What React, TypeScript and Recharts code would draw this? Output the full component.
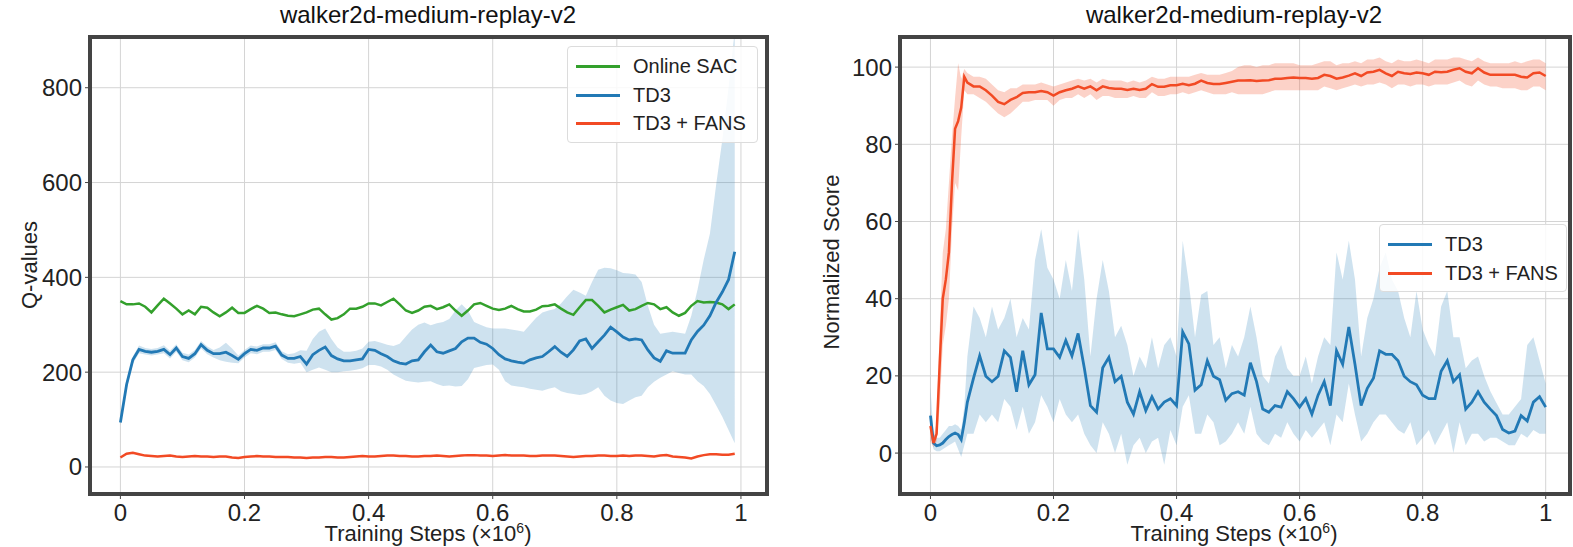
import React from 'react'
import { ComposedChart, Line, Area, XAxis, YAxis, CartesianGrid, ReferenceArea } from 'recharts'

// ---------- left panel: Q-values ----------
const qSteps = [
  0, 0.01, 0.02, 0.03, 0.04, 0.05, 0.06, 0.07, 0.08, 0.09,
  0.1, 0.11, 0.12, 0.13, 0.14, 0.15, 0.16, 0.17, 0.18, 0.19,
  0.2, 0.21, 0.22, 0.23, 0.24, 0.25, 0.26, 0.27, 0.28, 0.29,
  0.3, 0.31, 0.32, 0.33, 0.34, 0.35, 0.36, 0.37, 0.38, 0.39,
  0.4, 0.41, 0.42, 0.43, 0.44, 0.45, 0.46, 0.47, 0.48, 0.49,
  0.5, 0.51, 0.52, 0.53, 0.54, 0.55, 0.56, 0.57, 0.58, 0.59,
  0.6, 0.61, 0.62, 0.63, 0.64, 0.65, 0.66, 0.67, 0.68, 0.69,
  0.7, 0.71, 0.72, 0.73, 0.74, 0.75, 0.76, 0.77, 0.78, 0.79,
  0.8, 0.81, 0.82, 0.83, 0.84, 0.85, 0.86, 0.87, 0.88, 0.89,
  0.9, 0.91, 0.92, 0.93, 0.94, 0.95, 0.96, 0.97, 0.98, 0.99,
]

const sacQ = [
  350, 343, 343, 345, 338, 326, 341, 355, 345, 334,
  322, 330, 322, 338, 336, 326, 318, 326, 336, 325,
  325, 333, 340, 334, 325, 326, 322, 319, 318, 322,
  326, 332, 334, 322, 311, 314, 322, 334, 334, 338,
  345, 345, 341, 348, 355, 343, 330, 325, 330, 338,
  340, 333, 337, 343, 330, 319, 330, 343, 346, 340,
  334, 331, 334, 340, 333, 328, 328, 332, 339, 340,
  343, 334, 326, 321, 337, 352, 352, 340, 326, 332,
  337, 342, 330, 333, 340, 346, 343, 333, 337, 326,
  319, 325, 340, 350, 347, 348, 347, 343, 333, 343,
]

const td3Q = [
  94, 174, 226, 248, 244, 242, 244, 248, 237, 251,
  233, 229, 239, 258, 246, 239, 239, 242, 235, 227,
  239, 248, 246, 251, 251, 255, 236, 229, 229, 233,
  217, 237, 246, 253, 235, 228, 224, 224, 226, 228,
  248, 246, 239, 233, 224, 219, 217, 224, 226, 243,
  257, 243, 240, 245, 250, 264, 272, 272, 263, 259,
  250, 237, 228, 224, 221, 219, 226, 230, 233, 243,
  254, 242, 233, 247, 266, 270, 250, 264, 278, 295,
  285, 274, 268, 270, 268, 247, 230, 223, 245, 240,
  240, 240, 268, 286, 299, 319, 347, 369, 395, 454,
]

const td3QLo = [
  88, 165, 218, 240, 237, 235, 237, 240, 229, 243,
  225, 221, 231, 250, 238, 231, 225, 222, 220, 219,
  231, 240, 238, 243, 243, 247, 228, 220, 218, 220,
  200, 205, 210, 205, 200, 200, 202, 203, 205, 208,
  215, 215, 212, 205, 195, 188, 182, 180, 178, 180,
  181, 175, 171, 172, 170, 171, 185, 209, 212, 215,
  216, 205, 181, 172, 170, 168, 165, 163, 161, 165,
  168, 160, 156, 154, 152, 154, 160, 168, 150, 140,
  135, 133, 140, 147, 150, 168, 180, 188, 195, 202,
  198, 195, 195, 181, 171, 154, 130, 106, 78, 50,
]

const td3QHi = [
  100, 182, 233, 256, 251, 249, 251, 257, 245, 259,
  241, 237, 247, 266, 254, 247, 252, 262, 250, 235,
  247, 256, 254, 259, 259, 263, 244, 238, 240, 246,
  245, 270, 285, 292, 270, 252, 243, 243, 245, 250,
  264, 266, 262, 258, 255, 260, 275, 290, 300, 305,
  299, 303, 306, 312, 330, 343, 330, 306, 300, 295,
  292, 292, 292, 290, 288, 285, 300, 315, 326, 330,
  333, 345, 360, 374, 368, 361, 390, 416, 420, 419,
  415, 409, 408, 406, 390, 340, 300, 281, 283, 285,
  283, 281, 319, 374, 437, 492, 595, 690, 800, 920,
]

const fansQ = [
  20, 28, 30, 27, 24, 23, 22, 23, 24, 22,
  21, 22, 23, 22, 22, 21, 22, 22, 20, 19,
  21, 22, 23, 22, 22, 21, 21, 21, 20, 20,
  19, 20, 20, 21, 21, 20, 20, 21, 22, 23,
  22, 22, 23, 24, 24, 23, 23, 22, 22, 23,
  23, 24, 23, 22, 23, 24, 25, 25, 24, 24,
  23, 24, 25, 24, 24, 24, 23, 23, 24, 24,
  24, 23, 22, 21, 22, 23, 23, 24, 24, 23,
  23, 24, 23, 24, 24, 23, 22, 24, 25, 22,
  21, 20, 18, 22, 25, 27, 27, 26, 26, 28,
]

const qTicksX = [0, 0.2, 0.4, 0.6, 0.8, 1]
const qTicksY = [0, 200, 400, 600, 800]

// ---------- right panel: normalized score ----------
const scoreSteps = [
  0, 0.005, 0.01, 0.015, 0.02, 0.025, 0.03, 0.035, 0.04, 0.045, 0.05, 0.055, 0.06,
  0.07, 0.08, 0.09, 0.1, 0.11, 0.12, 0.13, 0.14, 0.15, 0.16, 0.17, 0.18, 0.19,
  0.2, 0.21, 0.22, 0.23, 0.24, 0.25, 0.26, 0.27, 0.28, 0.29,
  0.3, 0.31, 0.32, 0.33, 0.34, 0.35, 0.36, 0.37, 0.38, 0.39,
  0.4, 0.41, 0.42, 0.43, 0.44, 0.45, 0.46, 0.47, 0.48, 0.49,
  0.5, 0.51, 0.52, 0.53, 0.54, 0.55, 0.56, 0.57, 0.58, 0.59,
  0.6, 0.61, 0.62, 0.63, 0.64, 0.65, 0.66, 0.67, 0.68, 0.69,
  0.7, 0.71, 0.72, 0.73, 0.74, 0.75, 0.76, 0.77, 0.78, 0.79,
  0.8, 0.81, 0.82, 0.83, 0.84, 0.85, 0.86, 0.87, 0.88, 0.89,
  0.9, 0.91, 0.92, 0.93, 0.94, 0.95, 0.96, 0.97, 0.98, 0.99, 1.0,
]

const td3Score = [
  9.7, 2.6, 1.9, 2.1, 2.6, 3.5, 4.3, 4.8, 5.2, 4.8, 3.5, 7.9, 13.2,
  19.4, 25.2, 19.9, 18.5, 19.9, 26.5, 24.8, 15.9, 26.5, 17.7, 20.3, 36.3, 27,
  27, 24.8, 29.2, 25.2, 31, 22.1, 12.3, 10.6, 22.1, 24.8,
  18.5, 19.9, 13.2, 10.1, 15.9, 11, 14.6, 11.4, 13.2, 14.1,
  12.3, 31.4, 28.3, 16.3, 17.7, 23.9, 19.9, 19, 13.7, 15.4,
  15.9, 15, 23.4, 18.5, 11.4, 10.6, 12.3, 11.9, 15.9, 14.1,
  11.9, 14.1, 10.1, 15, 18.5, 12.3, 26.5, 23, 32.7, 23,
  12.3, 16.8, 19.4, 26.5, 25.6, 25.6, 23.9, 19.9, 18.5, 17.7,
  15, 14.1, 14.1, 21.2, 23.9, 18.5, 20.3, 11.4, 13.2, 15.9,
  13.2, 11.4, 9.7, 6.1, 5.2, 5.7, 9.7, 8.3, 13.2, 14.6, 11.9,
]

const td3ScoreLo = [
  5, 1, 0.5, 0.5, 1, 1.5, 2, 2.5, 3, 1, -1, 2, 5,
  5, 10, 8, 10, 8, 14, 12, 6, 12, 5, 8, 15, 12,
  8, 14, 10, 8, 10, 5, 2, 0, 8, 5,
  0, 5, -3, 2, 4, 0, 3, 4, -3, 6,
  2, 12, 15, 5, 5, 10, 8, 2, 3, 5,
  8, 5, 12, 5, 3, 2, 5, 4, 8, 5,
  3, 6, 4, 6, 8, 2, 10, 8, 18, 10,
  3, 5, 8, 10, 10, 8, 6, 5, 8, 2,
  4, 6, 2, 5, 8, 0, 8, 2, 5, 5,
  3, 4, 4, 3, 2, 2, 5, 4, 6, 5, 5,
]

const td3ScoreHi = [
  17, 5, 4, 4, 5, 6, 7, 7, 7.5, 7, 6, 12, 25,
  38, 35, 30, 38, 32, 35, 40, 30, 35, 32, 50, 58, 48,
  45, 40, 50, 42, 58, 45, 25, 40, 50, 42,
  30, 33, 28, 20, 25, 22, 30, 22, 28, 30,
  25, 55, 44, 30, 41, 42, 28, 30, 22, 28,
  25, 30, 38, 30, 20, 18, 25, 28, 22, 20,
  20, 25, 18, 25, 30, 28, 52, 45, 55, 45,
  25, 35, 40, 48, 52, 45, 42, 35, 30, 42,
  32, 28, 25, 38, 42, 30, 30, 22, 24, 25,
  20, 16, 13, 10, 10, 12, 14, 28, 30, 24, 18,
]

const fansScore = [
  7, 2.6, 5, 23, 40, 45, 52, 70, 84, 86, 89.5, 97.5, 96,
  95, 95, 94, 92.6, 91, 90.4, 91.5, 92.2, 93.3, 93.5, 93.5, 93.8, 93.5,
  92.6, 93.5, 94, 94.4, 95, 94.4, 95, 94, 95, 94.6,
  94.4, 94.4, 94.1, 94.4, 94.1, 94.4, 95.6, 94.9, 94.9, 95.3,
  95.3, 95.7, 95.3, 95.7, 96.5, 95.9, 95.6, 95.6, 95.9, 96.2,
  96.5, 96.5, 96.6, 96.4, 96.5, 96.6, 97, 97, 97.2, 97.3,
  97.2, 97.2, 97, 97.2, 98, 97.7, 97, 97.3, 97.8, 98.4,
  97.7, 98.6, 98.8, 99.3, 98.4, 97.7, 98.8, 98.4, 98.2, 98.6,
  98.4, 98, 98.8, 98.7, 98.8, 99.3, 99.7, 98.8, 98.4, 99.7,
  98.6, 98, 98, 98, 98, 98, 97.5, 97.3, 98.4, 98.6, 97.7,
]

const fansScoreLo = [
  3, 1.5, 3, 12, 28, 33, 40, 58, 70, 68, 82, 94, 93,
  93, 92, 91, 89.5, 88, 87, 88, 89.5, 91, 91, 91.5, 91.5, 91.5,
  90, 91.5, 92, 92, 93, 92, 93, 91.5, 92.5, 92.5,
  92, 92, 92, 92.5, 92, 92, 93.5, 92.5, 92.5, 93,
  93, 93.5, 93, 93.5, 94, 93.5, 93, 93, 93, 93.5,
  93, 93, 93, 93, 93, 93.5, 94, 94, 94, 94,
  94, 94, 94, 94, 95, 94.5, 94, 94.5, 95, 95.5,
  95, 95.5, 95.5, 96, 95.5, 94.5, 95.5, 95.5, 95, 95.5,
  95.5, 95, 95.5, 95.5, 95.5, 96, 96.5, 95.5, 95, 96.5,
  95.5, 95, 95, 94.5, 94.5, 94.5, 94, 94, 95, 95, 94,
]

const fansScoreHi = [
  11, 4, 8, 32, 52, 58, 70, 82, 92, 101, 97, 99.5, 98.5,
  97.5, 97.5, 97, 95.5, 94, 93.5, 94.5, 94.5, 95.5, 95.5, 95.5, 96, 95.5,
  95, 95.5, 96, 96.5, 97, 96.5, 97, 96, 97, 96.5,
  96.5, 96.5, 96, 96.5, 96, 96.5, 97.5, 97, 97, 97.5,
  97.5, 97.5, 97.5, 98, 98.5, 98, 98, 98, 98.5, 99,
  100, 100.5, 100.5, 100, 100.5, 100.5, 101, 101, 101, 101,
  100.5, 100.5, 100.5, 101, 101.5, 101.5, 100.5, 101, 101, 101.5,
  101, 102, 102, 102.5, 101.5, 101, 102, 101.5, 101.5, 102,
  101.5, 101, 102, 102, 102, 102.5, 102.5, 102, 101.5, 102.5,
  101.5, 101, 101, 101, 101, 101.5, 101, 101.5, 102, 102, 101,
]

const scoreTicksX = [0, 0.2, 0.4, 0.6, 0.8, 1]
const scoreTicksY = [0, 20, 40, 60, 80, 100]

const TITLE = 'walker2d-medium-replay-v2'

const GREEN = '#33a02c'
const BLUE = '#2279b5'
const RED = '#f24a24'
const FONT = '"Liberation Sans", Arial, sans-serif'
const TEXT = '#222'

const qData = qSteps.map((x, i) => ({
  x,
  sac: sacQ[i],
  td3: td3Q[i],
  fans: fansQ[i],
  td3Band: [td3QLo[i], td3QHi[i]],
}))

const scoreData = scoreSteps.map((x, i) => ({
  x,
  td3: td3Score[i],
  fans: fansScore[i],
  td3Band: [td3ScoreLo[i], td3ScoreHi[i]],
  fansBand: [fansScoreLo[i], fansScoreHi[i]],
}))

const fmtX = (v: number) => (v === 0 ? '0' : v === 1 ? '1' : String(v))

const tickStyle = { fontSize: 24, fill: TEXT, fontFamily: FONT }

const ROW = 28.5

function Legend({ left, top, width, items }: { left: number; top: number; width: number; items: { label: string; color: string }[] }) {
  return (
    <div
      style={{
        position: 'absolute',
        left,
        top,
        width,
        height: items.length * ROW + 9,
        border: '1px solid #dcdcdc',
        borderRadius: 4,
        background: 'rgba(255,255,255,0.85)',
        fontFamily: FONT,
        fontSize: 20,
        color: TEXT,
      }}
    >
      {items.map((it, i) => (
        <div key={it.label} style={{ position: 'absolute', left: 0, top: 6 + i * ROW, height: 27, width: '100%' }}>
          <div style={{ position: 'absolute', left: 8, top: 12, width: 44, height: 3, background: it.color }} />
          <div style={{ position: 'absolute', left: 65, top: 1, lineHeight: '25px', whiteSpace: 'nowrap' }}>{it.label}</div>
        </div>
      ))}
    </div>
  )
}

const XLabel = ({ cx }: { cx: number }) => (
  <div
    style={{
      position: 'absolute',
      left: cx - 200,
      width: 400,
      top: 522,
      height: 24,
      textAlign: 'center',
      fontFamily: FONT,
      fontSize: 22,
      color: TEXT,
      lineHeight: '24px',
      whiteSpace: 'nowrap',
    }}
  >
    Training Steps (×10<sup style={{ fontSize: 14, verticalAlign: 'super', lineHeight: 0 }}>6</sup>)
  </div>
)

const YLabel = ({ cx, cy, text }: { cx: number; cy: number; text: string }) => (
  <div
    style={{
      position: 'absolute',
      left: cx - 150,
      top: cy - 15,
      width: 300,
      height: 30,
      lineHeight: '30px',
      textAlign: 'center',
      transform: 'rotate(-90deg)',
      fontFamily: FONT,
      fontSize: 22,
      color: TEXT,
      whiteSpace: 'nowrap',
    }}
  >
    {text}
  </div>
)

const Title = ({ cx }: { cx: number }) => (
  <div
    style={{
      position: 'absolute',
      left: cx - 250,
      width: 500,
      top: 0,
      textAlign: 'center',
      fontFamily: FONT,
      fontSize: 24,
      lineHeight: '30px',
      color: '#111',
    }}
  >
    {TITLE}
  </div>
)

export default function App() {
  const qDomainX: [number, number] = [-0.049, 1.042]
  const qDomainY: [number, number] = [-57, 907]
  const sDomainX: [number, number] = [-0.0495, 1.0395]
  const sDomainY: [number, number] = [-10.6, 107.8]

  return (
    <div style={{ position: 'absolute', left: 0, top: 0, width: 1573, height: 547, overflow: 'hidden', background: '#fff' }}>
      <Title cx={428} />
      <Title cx={1234} />

      <div style={{ position: 'absolute', left: 0, top: 0 }}>
        <ComposedChart width={800} height={547} data={qData} margin={{ top: 37, right: 33, bottom: 0, left: 0 }}>
          <CartesianGrid stroke="#d4d4d4" strokeWidth={1} />
          <XAxis
            type="number"
            dataKey="x"
            domain={qDomainX}
            ticks={qTicksX}
            allowDataOverflow
            tickFormatter={fmtX}
            height={53}
            axisLine={false}
            tickLine={{ stroke: '#444' }}
            tickSize={5}
            tickMargin={5}
            tick={tickStyle}
          />
          <YAxis
            type="number"
            domain={qDomainY}
            ticks={qTicksY}
            allowDataOverflow
            width={90}
            axisLine={false}
            tickLine={{ stroke: '#444' }}
            tickSize={5}
            tickMargin={3}
            tick={tickStyle}
          />
          <Area dataKey="td3Band" stroke="none" fill={BLUE} fillOpacity={0.22} isAnimationActive={false} />
          <Line dataKey="sac" stroke={GREEN} strokeWidth={2.5} dot={false} isAnimationActive={false} />
          <Line dataKey="td3" stroke={BLUE} strokeWidth={2.8} dot={false} isAnimationActive={false} />
          <Line dataKey="fans" stroke={RED} strokeWidth={2.5} dot={false} isAnimationActive={false} />
          <ReferenceArea
            x1={qDomainX[0]}
            x2={qDomainX[1]}
            y1={qDomainY[0]}
            y2={qDomainY[1]}
            fill="none"
            stroke="#444"
            strokeWidth={4}
            ifOverflow="visible"
          />
        </ComposedChart>
      </div>

      <div style={{ position: 'absolute', left: 800, top: 0 }}>
        <ComposedChart width={775} height={547} data={scoreData} margin={{ top: 37, right: 5, bottom: 0, left: 0 }}>
          <CartesianGrid stroke="#d4d4d4" strokeWidth={1} />
          <XAxis
            type="number"
            dataKey="x"
            domain={sDomainX}
            ticks={scoreTicksX}
            allowDataOverflow
            tickFormatter={fmtX}
            height={53}
            axisLine={false}
            tickLine={{ stroke: '#444' }}
            tickSize={5}
            tickMargin={5}
            tick={tickStyle}
          />
          <YAxis
            type="number"
            domain={sDomainY}
            ticks={scoreTicksY}
            allowDataOverflow
            width={100}
            axisLine={false}
            tickLine={{ stroke: '#444' }}
            tickSize={5}
            tickMargin={3}
            tick={tickStyle}
          />
          <Area dataKey="td3Band" stroke="none" fill={BLUE} fillOpacity={0.22} isAnimationActive={false} />
          <Area dataKey="fansBand" stroke="none" fill={RED} fillOpacity={0.25} isAnimationActive={false} />
          <Line dataKey="td3" stroke={BLUE} strokeWidth={2.8} dot={false} isAnimationActive={false} />
          <Line dataKey="fans" stroke={RED} strokeWidth={2.5} dot={false} isAnimationActive={false} />
          <ReferenceArea
            x1={sDomainX[0]}
            x2={sDomainX[1]}
            y1={sDomainY[0]}
            y2={sDomainY[1]}
            fill="none"
            stroke="#444"
            strokeWidth={4}
            ifOverflow="visible"
          />
        </ComposedChart>
      </div>

      <XLabel cx={428} />
      <XLabel cx={1234} />
      <YLabel cx={30} cy={265} text="Q-values" />
      <YLabel cx={832} cy={262} text="Normalized Score" />

      <Legend
        left={567}
        top={46}
        width={189}
        items={[
          { label: 'Online SAC', color: GREEN },
          { label: 'TD3', color: BLUE },
          { label: 'TD3 + FANS', color: RED },
        ]}
      />
      <Legend
        left={1379}
        top={224}
        width={186}
        items={[
          { label: 'TD3', color: BLUE },
          { label: 'TD3 + FANS', color: RED },
        ]}
      />
    </div>
  )
}
